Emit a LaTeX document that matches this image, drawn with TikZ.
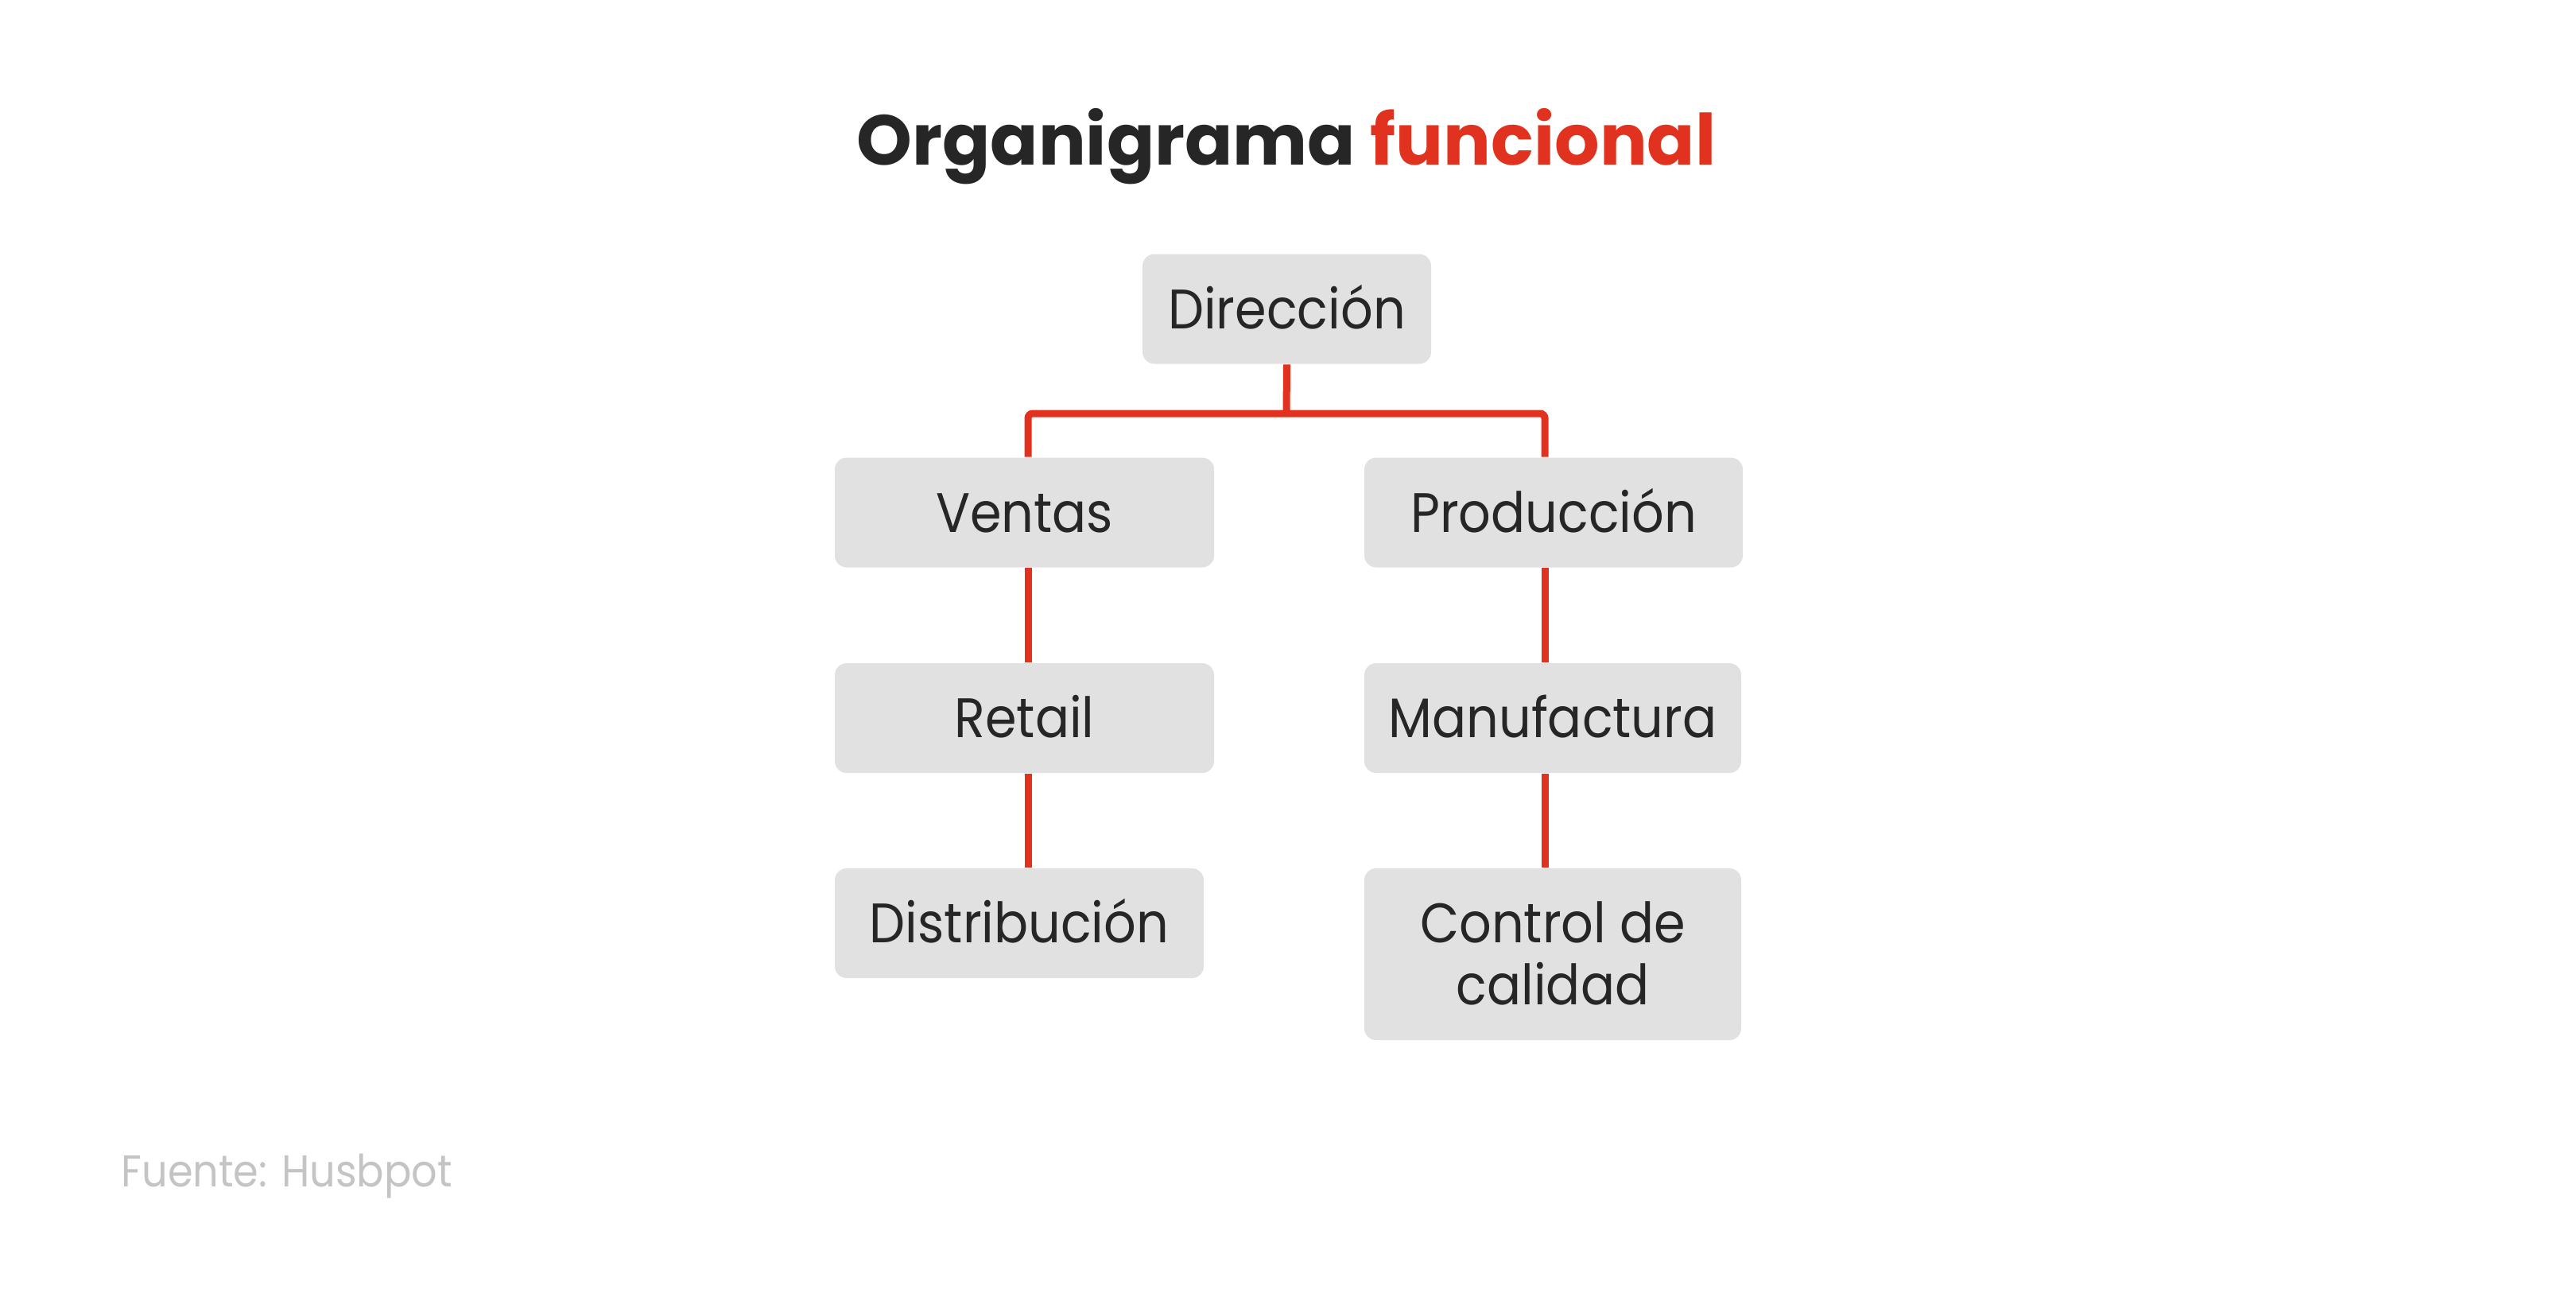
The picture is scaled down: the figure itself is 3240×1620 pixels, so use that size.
\documentclass[tikz,border=0pt]{standalone}
\usepackage{fontspec}
\setmainfont{Poppins}[FakeStretch=0.91]
\newfontfamily\titlefont{Poppins}[UprightFont=* Bold]
\definecolor{redline}{HTML}{E0321E}
\definecolor{darktext}{HTML}{262626}
\definecolor{boxfill}{HTML}{E1E1E1}
\definecolor{foottext}{HTML}{C4C4C4}
\tikzset{
  orgbox/.style={rectangle, rounded corners=3.75pt, fill=boxfill, draw=none,
    inner sep=0pt, minimum height=34.5pt, text=darktext,
    font=\fontsize{17.5pt}{19.5pt}\selectfont, text height=12.25pt, text depth=0pt, align=center},
  conn/.style={draw=redline, line width=2.25pt}
}
\begin{document}
\begin{tikzpicture}[x=0.25pt,y=-0.25pt]
\useasboundingbox[fill=white] (0,0) rectangle (3240,1620);
% title
\node[anchor=base, font=\titlefont\fontsize{22.2pt}{26pt}\selectfont, inner sep=0pt] (title) at (1618,207)
  {\textcolor{darktext}{Organigrama} \textcolor{redline}{funcional}};
% connector junctions
\coordinate (jl) at (1293,520);
\coordinate (jr) at (1943,520);
\coordinate (jm) at (1618,520);
% boxes
\node[orgbox, minimum width=90.75pt] (dir) at (1618.5,388.5) {Dirección};
\node[orgbox, minimum width=119.25pt] (ven) at (1288.5,644.5) {Ventas};
\node[orgbox, minimum width=119pt] (pro) at (1954,644.5) {Producción};
\node[orgbox, minimum width=119.25pt] (ret) at (1288.5,903) {Retail};
\node[orgbox, minimum width=118.5pt] (man) at (1953,903) {Manufactura};
\node[orgbox, minimum width=116pt] (dis) at (1282,1161) {Distribución};
\node[orgbox, minimum width=118.5pt, minimum height=54pt, text height=31.75pt, text depth=0pt] (con) at (1953,1200) {Control de\\calidad};
% connectors
\draw[conn] (dir.south) -- (jm);
\draw[conn, rounded corners=1.5pt] (ven.north -| jl) -- (jl) -- (jr) -- (pro.north -| jr);
\draw[conn] (ven.south -| jl) -- (ret.north -| jl);
\draw[conn] (ret.south -| jl) -- (dis.north -| jl);
\draw[conn] (pro.south -| jr) -- (man.north -| jr);
\draw[conn] (man.south -| jr) -- (con.north -| jr);
% footer
\node[anchor=base west, inner sep=0pt, text=foottext, font=\fontsize{14pt}{16pt}\selectfont] (foot) at (152,1492) {Fuente: Husbpot};
\end{tikzpicture}
\end{document}
